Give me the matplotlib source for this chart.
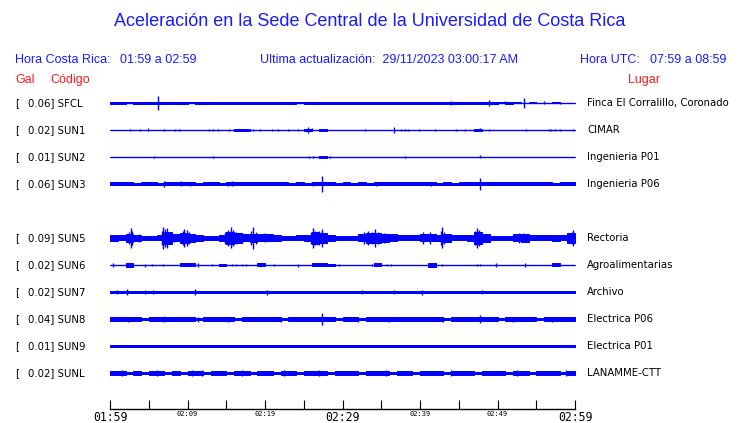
import numpy as np
import matplotlib
matplotlib.use("Agg")
import matplotlib.pyplot as plt

# estaciones (codigo, Gal maximo, lugar)
codes = ["SFCL", "SUN1", "SUN2", "SUN3", "SUN5", "SUN6", "SUN7", "SUN8", "SUN9", "SUNL"]
gals = [0.06, 0.02, 0.01, 0.06, 0.09, 0.02, 0.02, 0.04, 0.01, 0.02]
places = ["Finca El Corralillo, Coronado", "CIMAR", "Ingenieria P01", "Ingenieria P06",
          "Rectoria", "Agroalimentarias", "Archivo", "Electrica P06", "Electrica P01",
          "LANAMME-CTT"]

time_labels = ["01:59", "", "02:09", "", "02:19", "", "02:29", "", "02:39", "", "02:49", "", "02:59"]

# amplitud de la envolvente por minuto (px de media altura)
sfcl_env = [1.2, 0.8, 0.5, 1.3, 1.3, 1.3, 1.3, 1.3, 1.3, 1.3,
            0.5, 0.8, 1.2, 0.6, 1.2, 1.2, 0.8, 1.2, 0.6, 1.2,
            1.0, 0.6, 0.8, 1.2, 0.5, 1.2, 0.8, 1.0, 1.3, 1.3,
            1.3, 1.3, 1.3, 1.3, 1.3, 1.2, 1.3, 1.3, 1.3, 1.3,
            1.3, 1.2, 0.8, 1.2, 1.2, 0.8, 0.6, 1.0, 1.2, 1.2,
            0.5, 0.6, 0.5, 0.3, 0.5, 0.3, 0.3, 0.5, 0.3, 0.3]
sun1_env = [0, 0, 0, 0, 0, 0, 0, 0, 0, 0,
            0, 0, 0, 0, 0, 0, 1.2, 1.2, 0, 0,
            0, 0, 0, 0, 0, 1.2, 0, 1.2, 0, 0,
            0, 0, 0, 0, 0, 0, 0, 0, 0, 0,
            0, 0, 0, 0, 0, 0, 0, 1.0, 0, 0,
            0, 0, 0, 0, 0, 0, 0, 0, 0, 0]
sun2_env = [0] * 27 + [1.3] + [0] * 32
sun3_env = [1.5, 1.5, 1.5, 1.0, 1.5, 1.5, 1.2, 1.5, 1.5, 1.5,
            1.5, 1.0, 1.5, 1.5, 1.2, 1.5, 1.5, 1.5, 1.5, 1.5,
            1.5, 1.5, 1.5, 1.0, 1.5, 1.2, 1.5, 1.5, 1.5, 1.0,
            1.5, 1.2, 1.5, 1.0, 1.5, 1.5, 1.5, 1.5, 1.5, 1.5,
            1.5, 1.5, 1.0, 1.5, 1.2, 1.5, 1.5, 1.5, 1.5, 1.5,
            1.5, 1.5, 1.5, 1.5, 1.5, 1.5, 1.5, 1.2, 1.5, 1.5]
sun5_env = [3.0, 2.5, 4.0, 3.0, 2.3, 2.3, 2.5, 6.0, 3.5, 5.0,
            4.0, 3.0, 2.3, 2.3, 3.0, 6.0, 5.0, 3.5, 4.0, 3.5,
            3.5, 3.0, 2.3, 2.3, 2.5, 3.0, 6.0, 5.0, 3.0, 2.3,
            2.3, 2.3, 3.5, 5.0, 5.0, 4.0, 3.5, 2.5, 2.5, 2.5,
            3.5, 3.5, 3.0, 4.0, 2.5, 2.5, 3.0, 6.0, 4.0, 2.3,
            2.3, 2.3, 3.5, 4.0, 2.5, 2.5, 2.5, 3.0, 2.5, 5.0]
sun6_env = [0, 0, 1.7, 0, 0, 0, 0, 0, 0, 1.5,
            1.5, 0, 0, 0, 1.2, 0, 0, 0, 0, 1.5,
            0, 0, 0, 0, 0, 0, 1.5, 1.5, 1.2, 0,
            0, 0, 0, 0, 1.5, 0, 0, 0, 0, 0,
            0, 1.7, 0, 0, 0, 0, 0, 0, 0, 0,
            0, 0, 0, 0, 0, 0, 0, 1.5, 0, 0]
sun7_env = [1.3, 1.3, 1.3, 1.0, 1.3, 1.3, 0.8, 1.3, 1.3, 1.0,
            1.3, 1.3, 0.6, 1.3, 1.3, 1.0, 1.3, 1.3, 1.3, 1.0,
            1.3, 1.0, 1.3, 1.3, 1.0, 1.3, 1.0, 1.3, 1.0, 1.3,
            1.0, 1.3, 0.6, 1.3, 1.0, 0.6, 1.3, 1.0, 1.3, 1.0,
            1.3, 1.3, 1.3, 1.3, 1.0, 0.6, 1.0, 1.3, 0.6, 1.3,
            1.0, 0.6, 1.3, 1.0, 0.6, 1.3, 0.6, 1.0, 1.0, 0.6]
sun8_env = [1.7, 1.7, 1.7, 1.7, 1.3, 1.7, 1.7, 1.7, 1.7, 1.7,
            1.7, 1.3, 1.7, 1.7, 1.7, 1.7, 1.3, 1.7, 1.7, 1.7,
            1.7, 1.7, 1.3, 1.7, 1.7, 1.7, 1.7, 1.7, 1.7, 1.3,
            1.7, 1.7, 1.3, 1.7, 1.7, 1.7, 1.7, 1.7, 1.7, 1.7,
            1.7, 1.7, 1.7, 1.3, 1.7, 1.7, 1.7, 1.7, 1.7, 1.7,
            1.3, 1.7, 1.7, 1.7, 1.7, 1.3, 1.7, 1.7, 1.7, 1.7]
sun9_env = [1.0, 0.5, 1.0, 1.0, 0.5, 1.0, 1.0, 1.0, 0.5, 1.0,
            1.0, 0.5, 1.0, 1.0, 0.5, 1.0, 0.5, 1.0, 1.0, 1.0,
            1.0, 0.5, 1.0, 1.0, 1.0, 0.5, 1.0, 1.0, 1.0, 0.5,
            1.0, 1.0, 0.5, 1.0, 1.0, 1.0, 0.5, 1.0, 1.0, 0.5,
            1.0, 0.5, 1.0, 1.0, 0.5, 1.0, 1.0, 0.5, 1.0, 1.0,
            0.5, 1.0, 1.0, 0.5, 1.0, 1.0, 0.5, 1.0, 1.0, 1.0]
sunl_env = [1.8, 1.8, 1.3, 1.8, 1.3, 1.8, 1.8, 1.3, 1.8, 1.3,
            1.8, 1.8, 1.3, 1.8, 1.8, 1.3, 1.8, 1.8, 1.3, 1.8,
            1.8, 1.3, 1.8, 1.8, 1.3, 1.8, 1.8, 1.8, 1.3, 1.8,
            1.8, 1.8, 1.3, 1.8, 1.8, 1.8, 1.3, 1.8, 1.8, 1.3,
            1.8, 1.8, 1.8, 1.3, 1.8, 1.8, 1.8, 1.3, 1.8, 1.8,
            1.8, 1.3, 1.8, 1.8, 1.3, 1.8, 1.8, 1.8, 1.3, 1.8]

# picos (minuto, media altura en px)
sfcl_spk = [(6.2, 6.7), (44.0, 2.0), (48.9, 3.3), (53.4, 5.0), (51.0, 1.5), (56.0, 1.5), (58.0, 1.3)]
sun1_spk = [(2.6, 1.3), (3.9, 1.0), (4.9, 1.5), (7.0, 1.3), (8.4, 1.0), (8.9, 1.3), (12.8, 1.0),
            (13.3, 1.0), (13.9, 1.3), (15.4, 1.3), (18.4, 1.3), (19.4, 1.3), (20.9, 1.3),
            (21.7, 1.0), (23.0, 1.3), (24.3, 1.3), (25.6, 3.3), (26.0, 1.5), (32.9, 1.3),
            (36.6, 3.0), (37.6, 1.0), (38.1, 1.3), (38.5, 1.3), (39.9, 1.3), (41.9, 1.3),
            (44.6, 1.3), (45.8, 1.3), (47.7, 1.5), (48.9, 1.3), (53.7, 1.3), (56.6, 1.3),
            (56.9, 1.3), (57.4, 1.3), (58.1, 1.3), (59.7, 1.3)]
sun2_spk = [(5.7, 1.0), (13.3, 1.0), (25.7, 1.0), (26.2, 1.0), (27.0, 1.0), (28.4, 1.0),
            (38.0, 1.0), (47.8, 1.5)]
sun3_spk = [(7.0, 2.8), (9.2, 2.5), (10.3, 2.0), (15.2, 2.0), (15.8, 2.5), (26.2, 2.0),
            (27.4, 8.0), (34.3, 2.0), (41.4, 2.0), (47.8, 5.8)]
sun5_spk = [(2.5, 6.0), (2.7, 10.0), (2.9, 7.0), (3.7, 4.0), (6.7, 7.0), (6.9, 11.0), (7.1, 9.0),
            (7.4, 10.0), (7.7, 6.0), (8.3, 4.0), (9.4, 7.0), (9.6, 9.0), (9.9, 8.0), (10.2, 6.0),
            (14.8, 6.0), (15.2, 8.0), (15.6, 10.5), (15.9, 8.0), (16.3, 6.0), (17.0, 5.0),
            (18.2, 7.0), (18.5, 11.0), (18.8, 6.0), (20.0, 4.5), (25.9, 6.0), (26.2, 10.0),
            (26.5, 7.0), (27.0, 7.0), (27.3, 9.0), (32.8, 6.0), (33.3, 7.0), (33.8, 6.0),
            (34.2, 9.0), (34.6, 6.0), (35.3, 5.0), (40.4, 6.0), (41.3, 6.0), (42.7, 7.0),
            (42.9, 10.5), (43.1, 6.0), (47.1, 7.0), (47.3, 9.7), (47.6, 8.0), (47.9, 6.0),
            (52.8, 5.0), (53.3, 4.5), (59.6, 6.0), (59.8, 8.3)]
sun6_spk = [(0.4, 1.7), (4.5, 1.5), (5.4, 1.3), (6.9, 1.3), (11.4, 2.0), (13.1, 1.2),
            (15.7, 1.2), (16.3, 1.2), (17.0, 1.0), (17.6, 1.0), (21.1, 1.3), (24.3, 1.5),
            (29.5, 1.3), (33.8, 1.2), (35.7, 1.2), (36.3, 1.0), (42.9, 1.0), (47.3, 1.0),
            (47.7, 1.3), (49.8, 2.0), (53.6, 2.0)]
sun7_spk = [(0.9, 2.0), (2.2, 3.0), (4.5, 2.0), (5.5, 2.0), (11.0, 3.0), (20.2, 2.5),
            (32.5, 2.0), (36.6, 2.0), (40.2, 2.5), (48.0, 2.0)]
sun8_spk = [(2.3, 2.5), (7.0, 3.0), (11.3, 2.5), (15.2, 2.5), (22.0, 2.5), (27.4, 5.8),
            (32.0, 2.5), (36.0, 2.5), (43.0, 2.5), (47.8, 4.5), (52.0, 2.5), (57.0, 2.5)]
sun9_spk = [(12.0, 1.3), (30.0, 1.3), (45.0, 1.3)]
sunl_spk = [(1.5, 2.5), (6.0, 2.5), (10.6, 3.0), (11.9, 3.0), (17.0, 2.5), (22.5, 2.5),
            (27.0, 2.5), (35.6, 3.0), (44.0, 2.5), (52.5, 2.5), (58.9, 2.5)]

envs = [sfcl_env, sun1_env, sun2_env, sun3_env, sun5_env, sun6_env, sun7_env, sun8_env, sun9_env, sunl_env]
spks = [sfcl_spk, sun1_spk, sun2_spk, sun3_spk, sun5_spk, sun6_spk, sun7_spk, sun8_spk, sun9_spk, sunl_spk]

W, H = 740, 423
BLUE = "#0000ff"
TXT_BLUE = "#1a1aff"
RED = "#ff1a1a"
ROW_PX = 27.0
rows = [0, 1, 2, 3, 5, 6, 7, 8, 9, 10]   # SUN4 no aparece


def fx(px):
    return px / W


def fy(py):
    return 1 - py / H


fig = plt.figure(figsize=(W / 100, H / 100), dpi=100)
fig.patch.set_facecolor("white")

# ejes: x de 110 a 575 px, y de 90 a 409 px
top_px, bot_px = 90, 409
ax = fig.add_axes([fx(110), fy(bot_px), fx(575) - fx(110), (bot_px - top_px) / H])
ax.set_xlim(0, 60)
ax.set_ylim((bot_px - 103) / ROW_PX, (top_px - 103) / ROW_PX)
for s in ["top", "left", "right"]:
    ax.spines[s].set_visible(False)
ax.spines["bottom"].set_linewidth(1.0)
ax.set_yticks([])

edges = np.arange(61)
for env, spk, r in zip(envs, spks, rows):
    e = np.array(env + [env[-1]], dtype=float) / ROW_PX
    ax.hlines(r, 0, 60, color=BLUE, lw=1.0)
    ax.fill_between(edges, r - e, r + e, step="post", facecolor=BLUE,
                    edgecolor=BLUE, lw=0.7)
    if spk:
        t = np.array([s[0] for s in spk])
        h = np.array([s[1] for s in spk]) / ROW_PX
        ax.vlines(t, r - h, r + h, color=BLUE, lw=1.0)

ax.set_xticks(np.arange(0, 61, 5))
ax.set_xticklabels(time_labels, family="DejaVu Sans Mono")
ax.tick_params(axis="x", direction="in", length=6.5, width=0.8, pad=1.5, color="black")
for lbl in ax.get_xticklabels():
    lbl.set_fontsize(8.3 if lbl.get_text() in ("01:59", "02:29", "02:59") else 5.0)

# titulo y encabezados
fig.text(0.5, fy(22), "Aceleración en la Sede Central de la Universidad de Costa Rica",
         ha="center", va="center", color=TXT_BLUE, fontsize=13, family="Liberation Sans")
hdr = dict(va="center", color=TXT_BLUE, fontsize=9, family="Liberation Sans")
fig.text(fx(15), fy(60), "Hora Costa Rica:", **hdr)
fig.text(fx(120), fy(60), "01:59 a 02:59", **hdr)
fig.text(fx(260), fy(60), "Ultima actualización:  29/11/2023 03:00:17 AM", **hdr)
fig.text(fx(580), fy(60), "Hora UTC:", **hdr)
fig.text(fx(650), fy(60), "07:59 a 08:59", **hdr)
red = dict(va="center", color=RED, fontsize=9, family="Liberation Sans")
fig.text(fx(15), fy(80), "Gal", **red)
fig.text(fx(50), fy(80), "Código", **red)
fig.text(fx(628), fy(80), "Lugar", **red)

lab = dict(va="center", color="black", fontsize=7.3, family="DejaVu Sans")
for c, g, p, r in zip(codes, gals, places, rows):
    ypx = 103 + ROW_PX * r
    fig.text(fx(15), fy(ypx), "[", **lab)
    fig.text(fx(28), fy(ypx), "%.2f] %s" % (g, c), **lab)
    fig.text(fx(587), fy(ypx), p, **lab)

fig.savefig("out.png", dpi=100)
